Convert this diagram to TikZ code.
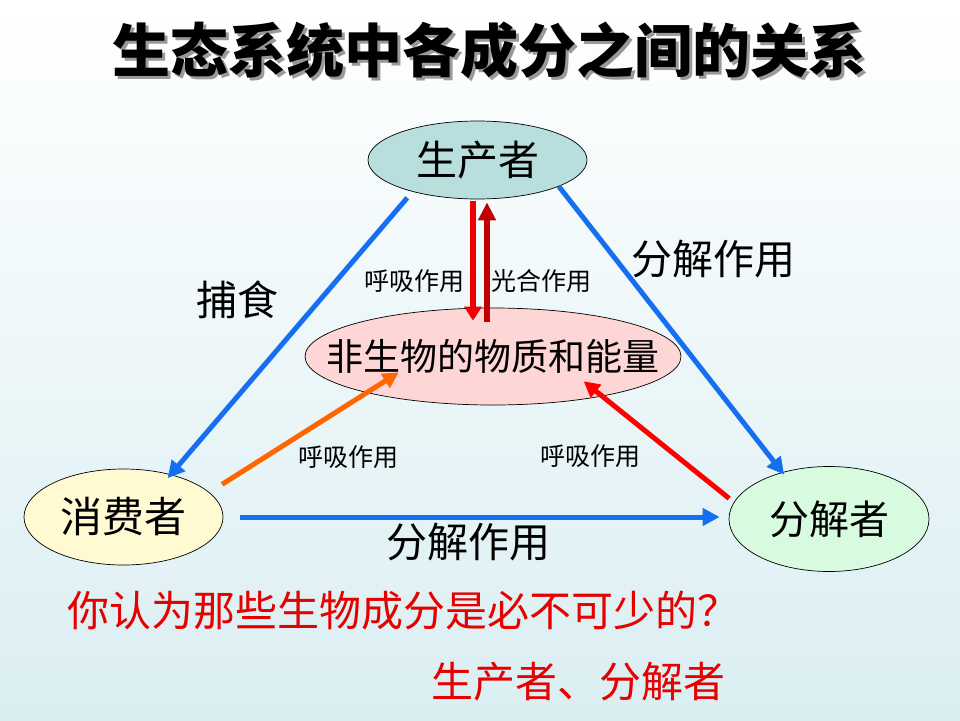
\documentclass[tikz,border=0pt]{standalone}
\usepackage{fontspec}
\setmainfont{Noto Sans CJK SC}
\usetikzlibrary{shapes.geometric,arrows.meta}
\newcommand\setfs[1]{\fontsize{#1}{#1}\selectfont}
\definecolor{bgc}{RGB}{218,238,242}
\definecolor{arrowblue}{RGB}{22,110,240}
\definecolor{redA}{RGB}{238,0,0}
\definecolor{redB}{RGB}{192,0,0}
\definecolor{orangeA}{RGB}{255,102,0}
\definecolor{prodfill}{RGB}{184,222,222}
\definecolor{abiofill}{RGB}{255,214,214}
\definecolor{consfill}{RGB}{255,250,210}
\definecolor{decfill}{RGB}{216,251,224}
\begin{document}
\begin{tikzpicture}[x=1pt,y=-1pt,
  oval/.style={ellipse, draw=black, line width=0.7pt, inner sep=0pt},
  bigtxt/.style={font=\setfs{41}},
  smalltxt/.style={font=\setfs{25}},
  redtxt/.style={font=\setfs{42}, text={rgb,255:red,230;green,0;blue,0}},
  bluearrow/.style={draw=arrowblue, line width=5pt, -{Triangle[length=17pt,width=17pt]}},
]
\useasboundingbox (0,0) rectangle (960,720);
\shade[top color=white, bottom color=bgc] (0,0) rectangle (960,720);

% title
\node (titleshadow) [font=\setfs{58}\bfseries, text=black!40] at (492.5,53.5) {生态系统中各成分之间的关系};
\node (title) [font=\setfs{58}\bfseries, text=black] at (489,50) {生态系统中各成分之间的关系};

% nodes
\node (prod) [oval, fill=prodfill, minimum width=219pt, minimum height=78pt, font=\setfs{41}] at (477.5,160) {生产者};
\node (abio) [oval, fill=abiofill, inner xsep=-40pt, minimum width=376pt, minimum height=97pt, font=\setfs{37}] at (493,356.5) {非生物的物质和能量};
\node (cons) [oval, fill=consfill, minimum width=199pt, minimum height=96pt, font=\setfs{42}] at (123.5,517) {消费者};
\node (dec) [oval, fill=decfill, minimum width=200pt, minimum height=105pt, font=\setfs{40}] at (829,519) {分解者};

% connectors
\draw[bluearrow, shorten <=8pt, shorten >=-5pt] (prod.206) -- (cons.42);
\draw[bluearrow, shorten >=-3pt] (prod.342) -- (dec.135);
\draw[bluearrow, shorten <=17pt, shorten >=9pt] (cons.east) -- (cons.east -| dec.west);

\draw[draw=redA, line width=6pt, -{Triangle[length=14pt,width=17pt]}, shorten <=2pt, shorten >=-13pt]
  ([xshift=-4.5pt]prod.south) -- ([xshift=-4.5pt]prod.south |- abio.north);
\draw[draw=redB, line width=6pt, -{Triangle[length=18pt,width=17pt]}, shorten <=-14pt, shorten >=3pt]
  ([xshift=9.5pt]prod.south |- abio.north) -- ([xshift=9.5pt]prod.south);

\draw[draw=orangeA, line width=5pt, -{Triangle[length=16pt,width=16pt]}, shorten <=15pt, shorten >=-38pt]
  (cons.16) -- (abio.196);
\draw[draw=red, line width=5pt, -{Triangle[length=16pt,width=16pt]}, shorten <=6pt, shorten >=-24pt]
  (dec.170) -- (abio.340);

% labels
\node (lprey) [bigtxt] at (237,300) {捕食};
\node (ldecA) [bigtxt] at (713,259) {分解作用};
\node (lresA) [smalltxt] at (414,281) {呼吸作用};
\node (lphot) [smalltxt] at (541,281) {光合作用};
\node (lresB) [smalltxt] at (348,457) {呼吸作用};
\node (lresC) [smalltxt] at (590,456) {呼吸作用};
\node (ldecB) [bigtxt] at (468.5,542) {分解作用};

\node (question) [redtxt] at (403,611) {你认为那些生物成分是必不可少的？};
\node (answer) [redtxt] at (578,682) {生产者、分解者};
\end{tikzpicture}
\end{document}
